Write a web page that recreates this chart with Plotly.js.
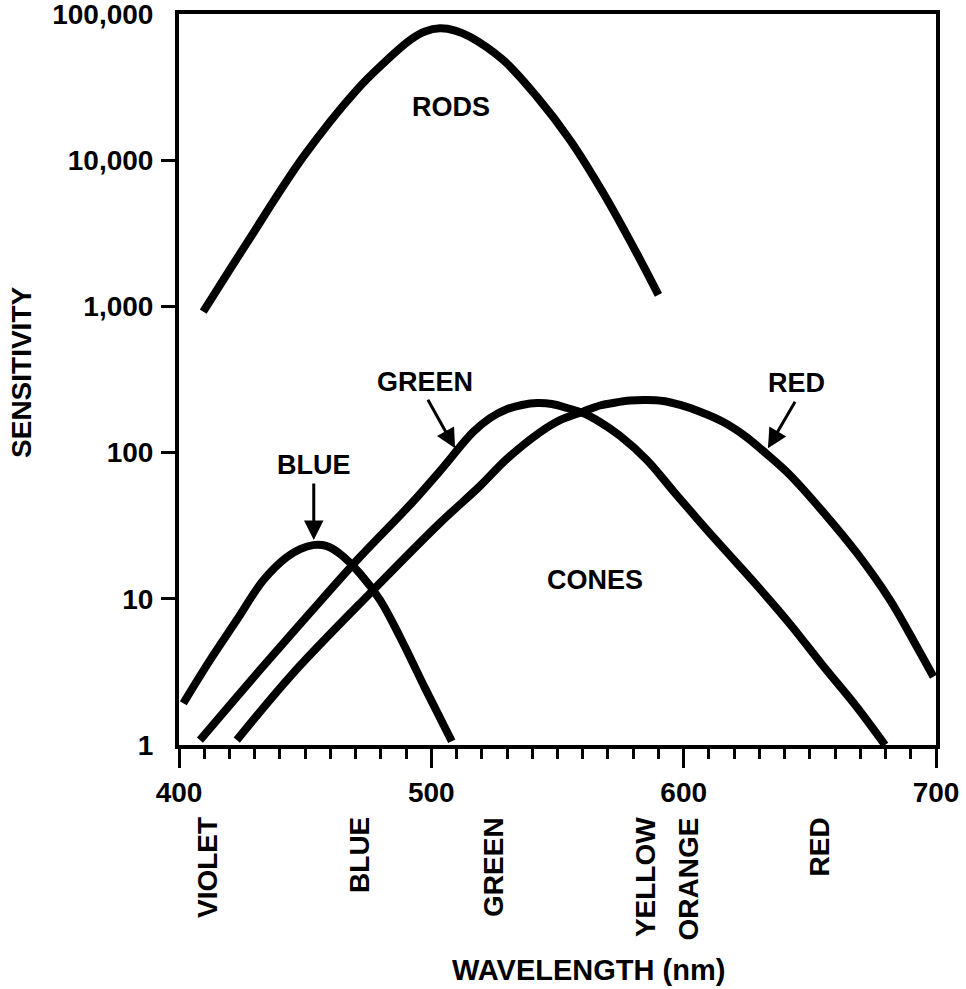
<!DOCTYPE html>
<html>
<head>
<meta charset="utf-8">
<script src="https://cdn.plot.ly/plotly-3.0.1.min.js"></script>
<style>html,body{margin:0;padding:0;background:#fff;}#chart{width:966px;height:989px;}</style>
</head>
<body>
<div id="chart"></div>
<script>
// ---- data (wavelength nm, sensitivity) ----
const rodsX  = [409.6, 426.8, 449.3, 470.4, 481.0, 491.6, 497.5, 503.4, 509.4, 515.3, 528.5, 541.8, 555.0, 568.2, 581.4, 590.0];
const rodsY  = [920, 2700, 10570, 30200, 46000, 66400, 75900, 79800, 77100, 70000, 48400, 27200, 13700, 5940, 2310, 1200];

const blueX  = [401.7, 412.3, 422.9, 433.4, 442.7, 448.0, 453.1, 458.3, 463.8, 471.7, 479.7, 487.6, 497.5, 508.1];
const blueY  = [1.93, 3.81, 7.16, 13.4, 19.3, 21.9, 23.3, 23.0, 20.3, 14.9, 9.8, 5.48, 2.45, 1.06];

const greenX = [408.3, 432.1, 451.9, 471.7, 491.5, 503.4, 516.5, 523.3, 530.1, 535.9, 541.9, 547.8, 553.8, 560.1, 566.8, 574.8, 585.4, 595.9, 606.5, 615.7, 628.9, 642.1, 655.3, 668.6, 679.8];
const greenY = [1.08, 3.26, 8.0, 19.3, 43.8, 74.8, 138, 172.5, 198.7, 211.8, 218.3, 215, 201.8, 186.6, 161.9, 130, 89, 54.6, 33.5, 22.2, 12.4, 6.73, 3.47, 1.82, 1.0];

const redX   = [422.9, 445.3, 477.0, 503.4, 519.3, 529.9, 543.1, 551.0, 560.1, 566.8, 572.0, 578.7, 585.4, 591.8, 598.6, 606.5, 615.7, 624.3, 632.9, 642.1, 655.3, 668.6, 681.8, 692.4, 699.0];
const redY   = [1.08, 3.11, 11.5, 33.0, 59.1, 90.4, 138, 167, 190.5, 210, 218.5, 227, 229, 225.4, 211.8, 190.5, 162, 130, 97.8, 70.3, 39.2, 20.6, 9.8, 4.7, 2.93];

const yTickVals   = [1, 10, 100, 1000, 10000, 100000];
const yTickText   = ['1', '10', '100', '1,000', '10,000', '100,000'];
const yTickMarked = [10, 100, 1000, 10000];
const xTickVals   = [400, 500, 600, 700];

const colorNames = ['VIOLET', 'BLUE', 'GREEN', 'YELLOW', 'ORANGE', 'RED'];
const colorNm    = [411.3, 471.3, 524.4, 584.7, 602.1, 654.0];

// curve labels: [text, x (nm), y (sensitivity)]
const curveLabels = [
  ['RODS', 507.8, 23100],
  ['CONES', 564.9, 13.4],
  ['BLUE', 453.4, 82.2],
  ['GREEN', 497.5, 304],
  ['RED', 644.9, 299]
];
// arrows: tip x (nm), tip y (sensitivity)
const arrowTips = [
  [453.4, 25.2],
  [509.4, 107],
  [633.4, 107]
];
const arrowOffsets = [[0, -58], [-28, -50], [28, -48]];

const FONT = 'Liberation Sans, Arial, Helvetica, sans-serif';
const lineStyle = {color: '#000', width: 8, shape: 'spline', smoothing: 1};

function tr(x, y) {
  return {x: x, y: y, type: 'scatter', mode: 'lines', line: lineStyle,
          cliponaxis: false, hoverinfo: 'skip', showlegend: false};
}
const data = [tr(rodsX, rodsY), tr(blueX, blueY), tr(greenX, greenY), tr(redX, redY),
  // invisible trace to activate the tick-only overlay axis
  {x: [400], y: [1], type: 'scatter', mode: 'markers', yaxis: 'y2',
   marker: {opacity: 0}, hoverinfo: 'skip', showlegend: false}];

const annotations = [];
curveLabels.forEach(l => annotations.push({
  text: l[0], x: l[1], y: Math.log10(l[2]), xref: 'x', yref: 'y', showarrow: false,
  font: {family: FONT, size: 27, color: '#000', weight: 700}, xanchor: 'center', yanchor: 'middle'
}));
arrowTips.forEach((a, i) => annotations.push({
  text: '', x: a[0], y: Math.log10(a[1]), xref: 'x', yref: 'y', showarrow: true,
  ax: arrowOffsets[i][0], ay: arrowOffsets[i][1], arrowhead: 2, arrowsize: 1.3,
  arrowwidth: 3, arrowcolor: '#000', standoff: 0, startstandoff: 0
}));
colorNames.forEach((n, i) => annotations.push({
  text: n, x: colorNm[i], y: -0.0958, xref: 'x', yref: 'paper', showarrow: false,
  textangle: -90, xanchor: 'center', yanchor: 'top',
  font: {family: FONT, size: 28, color: '#000', weight: 700}
}));
annotations.push({
  text: 'WAVELENGTH (nm)', x: 0.5416, y: -0.3078, xref: 'paper', yref: 'paper',
  showarrow: false, xanchor: 'center', yanchor: 'middle',
  font: {family: FONT, size: 29, color: '#000', weight: 700}
});
annotations.push({
  text: 'SENSITIVITY', x: -0.2074, y: 0.5103, xref: 'paper', yref: 'paper',
  showarrow: false, textangle: -90, xanchor: 'center', yanchor: 'middle',
  font: {family: FONT, size: 28, color: '#000', weight: 700}
});

const layout = {
  width: 966, height: 989,
  margin: {l: 179, r: 30, t: 14, b: 244, pad: 0},
  paper_bgcolor: '#fff', plot_bgcolor: '#fff',
  showlegend: false,
  xaxis: {
    range: [400, 700], showgrid: false, zeroline: false,
    showline: true, linecolor: '#000', linewidth: 4, mirror: true,
    tickmode: 'array', tickvals: xTickVals,
    ticks: 'outside', ticklen: 19, tickwidth: 3, tickcolor: '#000',
    minor: {dtick: 10, ticks: 'outside', ticklen: 10, tickwidth: 3, tickcolor: '#000', showgrid: false},
    tickfont: {family: FONT, size: 28, color: '#000', weight: 700}
  },
  yaxis: {
    type: 'log', range: [0, 5.0002], showgrid: false, zeroline: false,
    showline: true, linecolor: '#000', linewidth: 4, mirror: true,
    tickmode: 'array', tickvals: yTickVals, ticktext: yTickText,
    ticks: 'outside', ticklen: 16, tickcolor: 'rgba(0,0,0,0)',
    ticklabeloverflow: 'allow',
    tickfont: {family: FONT, size: 28, color: '#000', weight: 700}
  },
  yaxis2: {
    type: 'log', range: [0, 5.0002], overlaying: 'y', side: 'left', anchor: 'x',
    showgrid: false, zeroline: false, showline: false,
    tickmode: 'array', tickvals: yTickMarked, showticklabels: false,
    ticks: 'outside', ticklen: 17, tickwidth: 3, tickcolor: '#000'
  },
  annotations: annotations
};

Plotly.newPlot('chart', data, layout, {staticPlot: true, displayModeBar: false});
</script>
</body>
</html>
